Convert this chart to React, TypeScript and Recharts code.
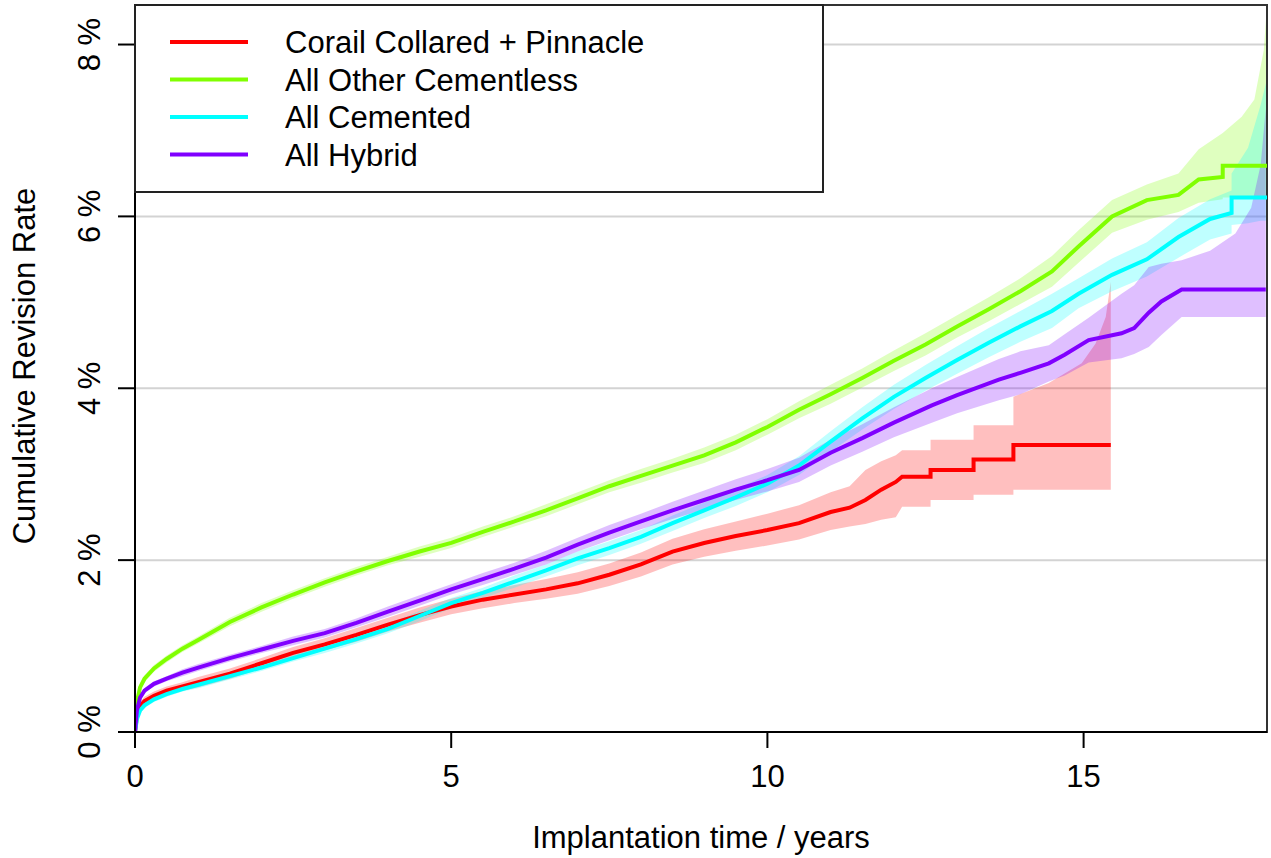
import React from "react";
import {
  ComposedChart,
  Area,
  Line,
  XAxis,
  YAxis,
  CartesianGrid,
  ReferenceArea,
  Legend,
  Label,
} from "recharts";

// cumulative revision rate (%) with 95% band
const redYears = [0, 0.03, 0.08, 0.15, 0.3, 0.5, 0.75, 1, 1.5, 2, 2.5, 3, 3.5, 4, 4.5, 5, 5.5, 6, 6.5, 7, 7.5, 8, 8.5, 9, 9.5, 10, 10.5, 11, 11.3, 11.55, 11.8, 12.03, 12.13, 12.58, 12.58, 13.26, 13.26, 13.89, 13.89, 14.45, 14.97, 15.19, 15.35, 15.43];
const redRate = [0, 0.18, 0.3, 0.36, 0.42, 0.48, 0.53, 0.58, 0.68, 0.8, 0.92, 1.02, 1.13, 1.25, 1.36, 1.46, 1.54, 1.6, 1.66, 1.73, 1.83, 1.95, 2.1, 2.2, 2.28, 2.35, 2.43, 2.56, 2.61, 2.7, 2.82, 2.91, 2.97, 2.97, 3.05, 3.05, 3.17, 3.17, 3.34, 3.34, 3.34, 3.34, 3.34, 3.34];
const redLow = [0, 0.14, 0.25, 0.31, 0.37, 0.43, 0.48, 0.52, 0.62, 0.74, 0.85, 0.95, 1.05, 1.17, 1.27, 1.37, 1.44, 1.5, 1.55, 1.61, 1.7, 1.81, 1.95, 2.04, 2.11, 2.17, 2.24, 2.35, 2.39, 2.42, 2.47, 2.5, 2.62, 2.62, 2.7, 2.7, 2.76, 2.76, 2.82, 2.82, 2.82, 2.82, 2.82, 2.82];
const redHigh = [0, 0.22, 0.35, 0.41, 0.47, 0.53, 0.58, 0.64, 0.74, 0.86, 0.99, 1.09, 1.21, 1.33, 1.45, 1.55, 1.64, 1.71, 1.78, 1.86, 1.96, 2.09, 2.25, 2.36, 2.45, 2.54, 2.64, 2.79, 2.86, 3.05, 3.15, 3.22, 3.28, 3.28, 3.4, 3.4, 3.57, 3.57, 3.9, 4.06, 4.29, 4.52, 4.83, 5.24];

const greenYears = [0, 0.03, 0.08, 0.15, 0.3, 0.5, 0.75, 1, 1.5, 2, 2.5, 3, 3.5, 4, 4.5, 5, 5.5, 6, 6.5, 7, 7.5, 8, 8.5, 9, 9.5, 10, 10.5, 11, 11.5, 12, 12.5, 13, 13.5, 14, 14.5, 14.92, 15.45, 16, 16.5, 16.82, 17.2, 17.2, 17.5, 17.7, 17.85, 17.9];
const greenRate = [0, 0.35, 0.52, 0.62, 0.74, 0.85, 0.97, 1.07, 1.28, 1.45, 1.6, 1.74, 1.87, 1.99, 2.1, 2.2, 2.33, 2.45, 2.58, 2.72, 2.86, 2.98, 3.1, 3.22, 3.37, 3.55, 3.75, 3.93, 4.12, 4.32, 4.51, 4.72, 4.92, 5.13, 5.36, 5.65, 6.0, 6.19, 6.25, 6.43, 6.46, 6.59, 6.59, 6.59, 6.59, 6.59];
const greenLow = [0, 0.31, 0.48, 0.58, 0.7, 0.81, 0.93, 1.03, 1.23, 1.4, 1.55, 1.69, 1.82, 1.94, 2.04, 2.14, 2.27, 2.39, 2.51, 2.65, 2.79, 2.9, 3.02, 3.13, 3.28, 3.46, 3.65, 3.82, 4.01, 4.2, 4.38, 4.59, 4.78, 4.98, 5.18, 5.46, 5.81, 5.96, 6.05, 6.16, 6.2, 6.22, 6.22, 6.22, 6.2, 6.2];
const greenHigh = [0, 0.39, 0.56, 0.66, 0.78, 0.89, 1.01, 1.11, 1.33, 1.5, 1.65, 1.79, 1.92, 2.04, 2.16, 2.26, 2.39, 2.51, 2.65, 2.79, 2.93, 3.06, 3.18, 3.31, 3.46, 3.64, 3.85, 4.04, 4.23, 4.44, 4.64, 4.85, 5.06, 5.28, 5.54, 5.84, 6.19, 6.37, 6.5, 6.78, 6.97, 6.97, 7.16, 7.36, 7.94, 8.46];

const cyanYears = [0, 0.03, 0.08, 0.15, 0.3, 0.5, 0.75, 1, 1.5, 2, 2.5, 3, 3.5, 4, 4.5, 5, 5.5, 6, 6.5, 7, 7.5, 8, 8.5, 9, 9.5, 10, 10.5, 11, 11.5, 12, 12.5, 13, 13.5, 14, 14.5, 14.92, 15.45, 16, 16.5, 17, 17.34, 17.34, 17.6, 17.8, 17.9];
const cyanRate = [0, 0.15, 0.25, 0.31, 0.38, 0.44, 0.5, 0.55, 0.65, 0.75, 0.86, 0.97, 1.08, 1.2, 1.35, 1.5, 1.62, 1.75, 1.88, 2.02, 2.14, 2.27, 2.43, 2.58, 2.73, 2.89, 3.1, 3.38, 3.65, 3.9, 4.12, 4.33, 4.53, 4.72, 4.9, 5.1, 5.32, 5.5, 5.76, 5.97, 6.04, 6.22, 6.22, 6.22, 6.22];
const cyanLow = [0, 0.12, 0.22, 0.28, 0.35, 0.41, 0.47, 0.51, 0.61, 0.71, 0.82, 0.92, 1.03, 1.15, 1.29, 1.44, 1.56, 1.68, 1.81, 1.94, 2.06, 2.19, 2.34, 2.49, 2.63, 2.79, 2.99, 3.26, 3.52, 3.76, 3.97, 4.17, 4.36, 4.54, 4.7, 4.93, 5.13, 5.3, 5.52, 5.73, 5.8, 5.9, 5.92, 5.95, 5.95];
const cyanHigh = [0, 0.18, 0.28, 0.34, 0.41, 0.47, 0.53, 0.59, 0.69, 0.79, 0.9, 1.02, 1.13, 1.25, 1.41, 1.56, 1.68, 1.82, 1.95, 2.1, 2.22, 2.35, 2.52, 2.67, 2.83, 2.99, 3.21, 3.5, 3.78, 4.04, 4.27, 4.49, 4.7, 4.9, 5.1, 5.28, 5.51, 5.7, 5.98, 6.2, 6.3, 6.5, 6.8, 7.3, 7.6];

const purpleYears = [0, 0.03, 0.08, 0.15, 0.3, 0.5, 0.75, 1, 1.5, 2, 2.5, 3, 3.5, 4, 4.5, 5, 5.5, 6, 6.5, 7, 7.5, 8, 8.5, 9, 9.5, 10, 10.5, 11, 11.5, 12, 12.6, 13, 13.66, 14, 14.45, 14.7, 15.08, 15.6, 15.8, 16.03, 16.23, 16.55, 17, 17.4, 17.65, 17.8, 17.88];
const purpleRate = [0, 0.25, 0.4, 0.48, 0.56, 0.62, 0.69, 0.75, 0.86, 0.96, 1.06, 1.15, 1.27, 1.4, 1.53, 1.66, 1.78, 1.9, 2.03, 2.18, 2.32, 2.45, 2.58, 2.7, 2.82, 2.93, 3.05, 3.25, 3.42, 3.6, 3.8, 3.92, 4.1, 4.18, 4.29, 4.39, 4.56, 4.64, 4.7, 4.88, 5.01, 5.15, 5.15, 5.15, 5.15, 5.15, 5.15];
const purpleLow = [0, 0.22, 0.37, 0.45, 0.53, 0.59, 0.65, 0.71, 0.82, 0.92, 1.01, 1.1, 1.22, 1.34, 1.47, 1.6, 1.71, 1.83, 1.95, 2.1, 2.23, 2.36, 2.48, 2.59, 2.7, 2.8, 2.91, 3.1, 3.26, 3.43, 3.6, 3.71, 3.86, 3.93, 4.08, 4.15, 4.3, 4.35, 4.4, 4.48, 4.62, 4.83, 4.83, 4.83, 4.83, 4.83, 4.83];
const purpleHigh = [0, 0.28, 0.43, 0.51, 0.59, 0.65, 0.73, 0.79, 0.9, 1.0, 1.11, 1.2, 1.32, 1.46, 1.59, 1.72, 1.85, 1.97, 2.11, 2.26, 2.41, 2.54, 2.68, 2.81, 2.94, 3.06, 3.19, 3.4, 3.58, 3.78, 4.0, 4.13, 4.34, 4.43, 4.5, 4.63, 4.82, 5.1, 5.2, 5.41, 5.45, 5.49, 5.6, 5.8, 6.1, 6.6, 7.25];

const seriesNames = ["Corail Collared + Pinnacle", "All Other Cementless", "All Cemented", "All Hybrid"];
const seriesColors = ["#FF0000", "#80FF00", "#00FFFF", "#8000FF"];

const xTicks = [0, 5, 10, 15];
const yTicks = [0, 2, 4, 6, 8];

const FONT = '"Liberation Sans", Arial, Helvetica, sans-serif';
const FS = 31;

function toRows(years: number[], rate: number[], low: number[], high: number[]) {
  return years.map((year, i) => ({ year, rate: rate[i], band: [low[i], high[i]] }));
}

const series = [
  toRows(redYears, redRate, redLow, redHigh),
  toRows(greenYears, greenRate, greenLow, greenHigh),
  toRows(cyanYears, cyanRate, cyanLow, cyanHigh),
  toRows(purpleYears, purpleRate, purpleLow, purpleHigh),
].map((rows, i) => ({ name: seriesNames[i], color: seriesColors[i], rows }));

const XTick = (props: any) => (
  <text x={props.x} y={787} textAnchor="middle" fontSize={FS} fontFamily={FONT} fill="#000">
    {props.payload.value}
  </text>
);

const YTick = (props: any) => (
  <text
    x={100}
    y={props.y}
    transform={`rotate(-90 100 ${props.y})`}
    textAnchor="middle"
    fontSize={FS}
    fontFamily={FONT}
    fill="#000"
  >
    {`${props.payload.value} %`}
  </text>
);

const LegendBox = () => (
  <svg width={690} height={189} style={{ display: "block" }}>
    <rect x={1} y={1} width={688} height={187} fill="#fff" stroke="#222" strokeWidth={2} />
    {seriesNames.map((name, i) => {
      const y = 38 + i * 37.5;
      return (
        <g key={name}>
          <line x1={36} x2={114} y1={y} y2={y} stroke={seriesColors[i]} strokeWidth={4} />
          <text x={151} y={y + 11} fontSize={FS} fontFamily={FONT} fill="#000">
            {name}
          </text>
        </g>
      );
    })}
  </svg>
);

export default function App() {
  return (
    <div style={{ position: "absolute", left: 0, top: 0, width: 1271, height: 858, background: "#fff" }}>
      <ComposedChart width={1271} height={858} margin={{ top: 5, right: 4, left: 0, bottom: 0 }}>
        <CartesianGrid vertical={false} stroke="#d3d3d3" strokeWidth={2} />
        <XAxis
          dataKey="year"
          type="number"
          domain={[0, 17.9]}
          allowDataOverflow
          ticks={xTicks}
          interval={0}
          height={126}
          tickSize={16}
          stroke="#000"
          strokeWidth={2}
          tick={<XTick />}
        >
          <Label
            content={() => (
              <text x={701} y={848} textAnchor="middle" fontSize={FS} fontFamily={FONT} fill="#000">
                Implantation time / years
              </text>
            )}
          />
        </XAxis>
        <YAxis
          type="number"
          domain={[0, 8.46]}
          allowDataOverflow
          ticks={yTicks}
          interval={0}
          width={135}
          tickSize={17}
          stroke="#000"
          strokeWidth={2}
          tick={<YTick />}
        >
          <Label
            content={() => (
              <text
                x={35}
                y={366}
                transform="rotate(-90 35 366)"
                textAnchor="middle"
                fontSize={FS}
                fontFamily={FONT}
                fill="#000"
              >
                Cumulative Revision Rate
              </text>
            )}
          />
        </YAxis>
        {series.map((s) => (
          <Area
            key={`band-${s.name}`}
            data={s.rows}
            dataKey="band"
            type="linear"
            stroke="none"
            fill={s.color}
            fillOpacity={0.25}
            isAnimationActive={false}
          />
        ))}
        {series.map((s) => (
          <Line
            key={`line-${s.name}`}
            data={s.rows}
            dataKey="rate"
            type="linear"
            stroke={s.color}
            strokeWidth={4}
            dot={false}
            activeDot={false}
            isAnimationActive={false}
          />
        ))}
        <ReferenceArea x1={0} x2={17.9} y1={0} y2={8.46} fill="none" stroke="#333" strokeWidth={2} />
        <Legend
          layout="vertical"
          align="center"
          verticalAlign="middle"
          content={<LegendBox />}
          wrapperStyle={{ position: "absolute", left: 134, top: 4, width: 690, height: 189 }}
        />
      </ComposedChart>
    </div>
  );
}
